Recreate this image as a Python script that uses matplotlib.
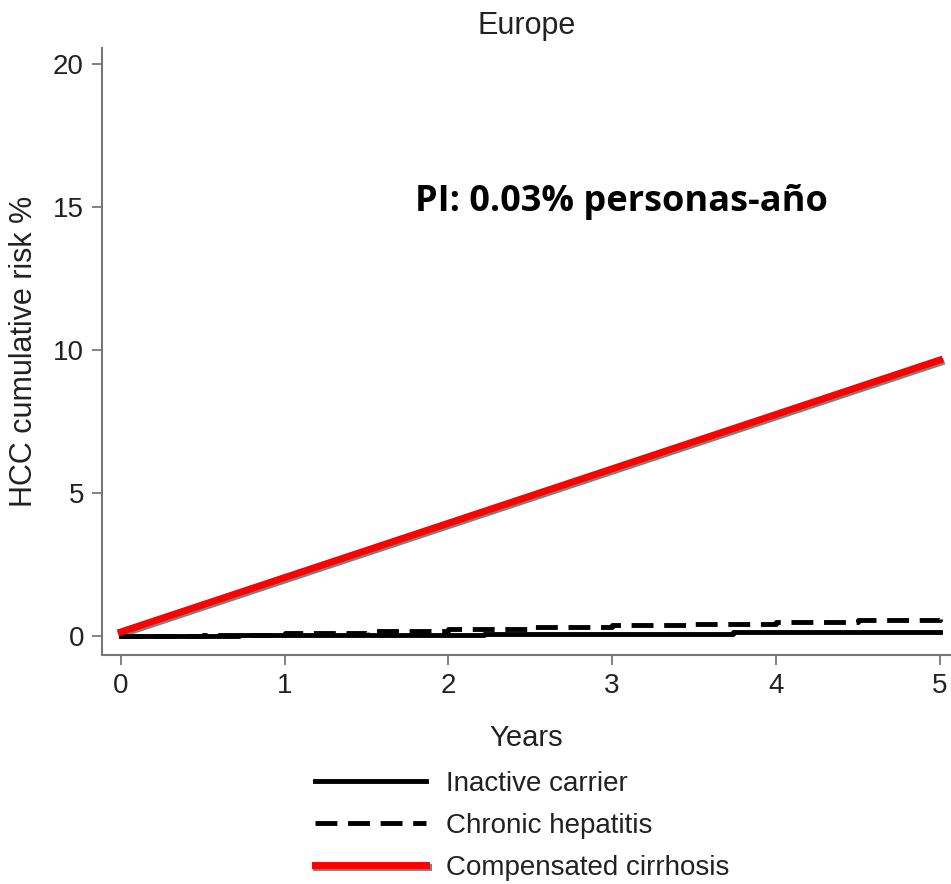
import numpy as np
import matplotlib
matplotlib.use("Agg")
import matplotlib.pyplot as plt
import matplotlib.patheffects as pe

plt.rcParams['font.family'] = ['Liberation Sans', 'DejaVu Sans']

# data
inactive_x = [0, 0.72, 2.22, 3.74, 5]
inactive_y = [0, 0.03, 0.07, 0.14, 0.14]

chronic_x = [0, 0.5, 1.0, 1.5, 2.0, 2.5, 3.0, 3.5, 4.0, 4.5, 5.0]
chronic_y = [0, 0.05, 0.12, 0.18, 0.25, 0.32, 0.38, 0.44, 0.50, 0.55, 0.60]

cirrhosis_x = [0, 1, 2, 3, 4, 5]
cirrhosis_y = [0.15, 2.05, 3.95, 5.85, 7.75, 9.65]

xticks = [0, 1, 2, 3, 4, 5]
yticks = [0, 5, 10, 15, 20]

fig = plt.figure(figsize=(9.51, 8.84), dpi=100)
ax = fig.add_axes([0.1073, 0.259, 0.8927, 0.6867])

ax.step(inactive_x, inactive_y, where='post', color='black', lw=3.5,
        label='Inactive carrier')
ax.step(chronic_x, chronic_y, where='post', color='black', lw=3.5,
        dashes=(4.5, 2.2), label='Chronic hepatitis')
ax.plot(cirrhosis_x, cirrhosis_y, color='#ff0000', lw=5,
        label='Compensated cirrhosis',
        path_effects=[pe.SimpleLineShadow(offset=(1, -1.5), shadow_color='black', alpha=0.5),
                      pe.Normal()])

ax.set_xlim(-0.116, 5.07)
ax.set_ylim(-0.66, 20.56)
ax.set_xticks(xticks)
ax.set_yticks(yticks)

for side in ['top', 'right']:
    ax.spines[side].set_visible(False)
for side in ['left', 'bottom']:
    ax.spines[side].set_color('#777777')
    ax.spines[side].set_linewidth(1.5)
ax.tick_params(direction='out', length=7, width=1.3, color='#777777',
               labelsize=20, labelcolor='#222222', pad=6)

ax.set_title('Europe', fontsize=22, color='#222222', pad=10)
ax.set_ylabel('HCC cumulative risk %', fontsize=22, color='#222222', labelpad=10)
ax.set_xlabel('Years', fontsize=21, color='#222222', labelpad=18)

fig.text(415 / 951, 1 - 202 / 884, 'PI: 0.03% personas-año', fontsize=26,
         fontweight='bold', family='Open Sans', va='center', ha='left')

fig.legend(loc='upper left', bbox_to_anchor=(315 / 951, 1 - 771 / 884),
           frameon=False, fontsize=20, handlelength=4.0, handletextpad=0.7,
           labelspacing=0.57, borderpad=0, borderaxespad=0, labelcolor='#222222')

fig.savefig('out.png', dpi=100)
